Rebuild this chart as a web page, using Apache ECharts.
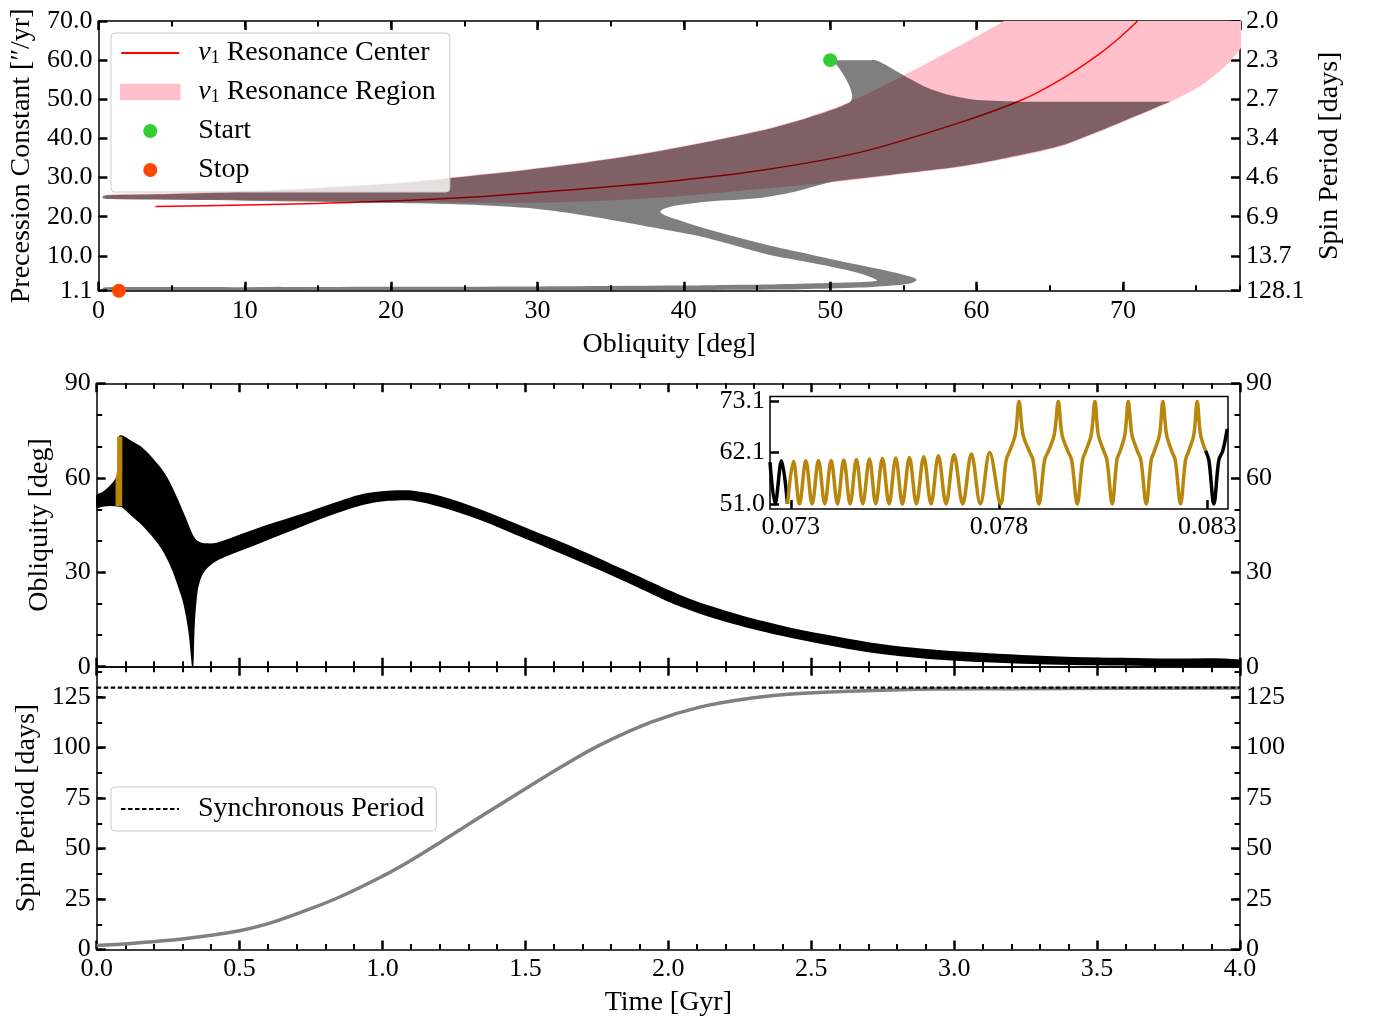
<!DOCTYPE html>
<html>
<head>
<meta charset="utf-8">
<script src="https://cdn.jsdelivr.net/npm/echarts@6/dist/echarts.min.js"></script>
<style>html,body{margin:0;padding:0;background:#fff}#c{width:1375px;height:1023px}</style>
</head>
<body>
<div id="c"></div>
<script>
// ---------------- DATA ----------------
// Panel 1: obliquity [deg] vs precession constant ["/yr]
const p1YTicks = [1.1, 10, 20, 30, 40, 50, 60, 70];
const p1SpinLabels = ['128.1', '13.7', '6.9', '4.6', '3.4', '2.7', '2.3', '2.0'];
const p1PinkUpper = [[0.5,25.6],[5,26.0],[10,26.6],[15,27.5],[20,28.6],[24.5,30.2],[31.6,33.2],[38.4,37.0],[45.2,42.1],[48.5,45.5],[51.3,49.3],[54.3,54.7],[58,62.0],[62,70.3],[65,78],[70,86],[81,86]];
const p1PinkLower = [[0.5,24.6],[10,24.3],[20,23.9],[25,23.6],[31.6,23.7],[38.4,24.9],[45.2,27.1],[52.1,29.6],[55,30.9],[58.9,32.7],[62,34.8],[65.7,37.9],[68.4,41.7],[71,45.7],[73.2,49.3],[75.3,53.4],[77,58.5],[78,62.8],[79,67.5],[80,73],[81,79]];
const p1Center = [[3.9,22.6],[10,23.0],[15,23.4],[20,24.0],[26.8,25.3],[31.6,26.7],[38.4,28.8],[45.2,31.8],[52.1,36.5],[58.9,44.1],[63.2,50.0],[66,55.6],[68.4,61.6],[70,66.5],[71.0,70.0]];
const p1Trajectory = [[50,60],[50.3,60],[52.8,60],[53.1,60],[53.3,59.7],[54.3,57.7],[55.5,55.1],[56.6,53.0],[58.0,51.2],[59.5,50.1],[61.2,49.6],[63.0,49.4],[72.9,49.4],[73.2,49.4],[72.9,48.9],
  [71,45.9],[68.4,41.9],[65.7,38.1],[62,35.0],[58.9,32.9],[55,31.1],[52.1,29.8],[50,28.8],
  [47.5,26.3],[45.2,24.8],[41.7,23.9],[39.6,22.9],[38.7,22.1],[38.4,21.3],
  [38.7,20.4],[39.6,19.2],[41,17.5],[43.4,15.0],[46,12.5],[48.7,10.3],[51.3,8.2],[53.5,6.5],[55,5.2],[55.8,4.3],[55.9,3.8],
  [55.5,3.0],[54.5,2.5],[52,1.9],[48,1.5],[40,1.3],[30,1.2],[20,1.15],[10,1.1],[0.5,1.1],[0.3,1.3],
  [0.3,1.8],[0.5,2.0],[10,2.0],[20,2.1],[30,2.2],[40,2.4],[44,2.6],[48,2.9],[51,3.2],[53.2,3.65],
  [52.6,4.8],[51,6.5],[48.5,8.4],[45.8,10.3],[43.6,12.5],[41.1,15],[37.5,17.5],[33.8,20],[30,22.0],[25,23.1],[20,23.5],[10,24.1],[0.6,24.5],[0.3,24.7],
  [0.3,25.3],[0.6,25.5],[5,25.8],[10,26.4],[15,27.3],[20,28.4],[24.5,30.0],[31.6,33.0],[38.4,36.8],[45.2,41.9],[48.5,45.3],[51.3,49.1],
  [51.5,50.9],[51.2,54.3],[50.5,58.5],[50.1,59.7]];
const p1Start = [[50, 60]];
const p1Stop = [[1.4, 1.1]];

// Panel 2: obliquity envelope vs time [Gyr]
const oblUpperEdge = [[0,54.5],[0.02,55.5],[0.04,57.0],[0.06,59.0],[0.07,60.3],[0.077,61.5],[0.0785,73.3],[0.09,73.4],[0.12,71.8],[0.163,69.3],[0.2215,63.5],[0.25,59.6],[0.28,54.0],[0.30,49.8],[0.315,46.6],[0.33,43.2],[0.344,40.8],[0.36,39.6],[0.38,39.2],[0.42,39.4],[0.513,42.4],[0.63,46.0],[0.746,49.4],[0.85,52.6],[0.92,54.6],[0.99,55.6],[1.05,56.0],[1.108,55.9],[1.2,54.3],[1.341,50.0],[1.5,44.2],[1.691,37.1],[1.85,30.6],[2.041,22.8],[2.2,17.8],[2.391,13.2],[2.55,10.2],[2.7,7.8],[2.85,6.1],[3.02,4.8],[3.37,3.2],[3.72,2.6],[4.0,2.3]];
const oblLowerEdge = [[0,50.5],[0.02,50.8],[0.05,51.0],[0.0785,50.8],[0.09,50.5],[0.12,48.0],[0.163,44.5],[0.2215,38.1],[0.25,33.5],[0.268,29.7],[0.29,24.0],[0.303,20.1],[0.32,11.7],[0.331,2.0],[0.334,0],[0.338,0],[0.341,8.0],[0.344,14.8],[0.35,21.5],[0.356,25.4],[0.373,29.7],[0.408,32.9],[0.45,34.9],[0.571,39.2],[0.688,43.4],[0.805,47.6],[0.921,51.1],[0.99,52.4],[1.05,52.8],[1.108,52.7],[1.2,50.8],[1.341,46.6],[1.5,40.6],[1.691,33.3],[1.85,27.0],[2.041,19.1],[2.2,14.3],[2.391,9.9],[2.55,7.0],[2.7,4.6],[2.85,3.0],[3.02,1.8],[3.37,0.6],[3.72,0.2],[4.0,0.2]];

// Inset: obliquity oscillations 0.0725 - 0.0835 Gyr
const insetBlackA = [[0.0725,60.0],[0.072624,51.0],[0.072776,60.3],[0.07292,51.0]];
const insetGold = [[0.07292,51.0],[0.073064,60.2],[0.073208,51.0],[0.07336,60.3],[0.073512,51.0],[0.073664,60.4],[0.073816,51.0],[0.073968,60.4],[0.07412,51.0],[0.074272,60.5],[0.074424,51.0],[0.074576,60.6],[0.074728,51.0],[0.074888,60.7],[0.07504,51.0],[0.0752,60.8],[0.07536,51.0],[0.07552,60.9],[0.07568,51.0],[0.075848,61.0],[0.076016,51.0],[0.076192,61.2],[0.076368,51.0],[0.076544,61.4],[0.076728,51.0],[0.07692,61.6],[0.077128,51.0],[0.077336,61.8],[0.077552,51.0],[0.077776,62.1],[0.07804,51.0],
  [0.078172,60.5],[0.07826,62.5],[0.078392,66.0],[0.07848,73.1],[0.078576,66.0],[0.07872,62.5],[0.078816,60.5],[0.07896,51.0],
  [0.079096,60.5],[0.079192,62.5],[0.079328,66.0],[0.079424,73.1],[0.079512,66.0],[0.079648,62.5],[0.079744,60.5],[0.07988,51.0],
  [0.080008,60.5],[0.080088,62.5],[0.080216,66.0],[0.080304,73.1],[0.080384,66.0],[0.080512,62.5],[0.080592,60.5],[0.08072,51.0],
  [0.080832,60.5],[0.080912,62.5],[0.081024,66.0],[0.081104,73.1],[0.081192,66.0],[0.08132,62.5],[0.081408,60.5],[0.081536,51.0],
  [0.081656,60.5],[0.081736,62.5],[0.081856,66.0],[0.081936,73.1],[0.082024,66.0],[0.082144,62.5],[0.082232,60.5],[0.08236,51.0],
  [0.08248,60.5],[0.08256,62.5],[0.08268,66.0],[0.08276,73.1],[0.08284,66.0],[0.08296,62.5]];
const insetBlackB = [[0.08296,62.5],[0.08304,60.5],[0.08316,51.0],[0.08328,60.5],[0.083376,62.5],[0.08348,67.2]];
const insetXTicks = [0.073, 0.078, 0.083];
const insetYTicks = [51.0, 62.1, 73.1];

// Panel 3: spin period [days] vs time [Gyr]
const spinTime = [0, 0.12, 0.245, 0.375, 0.5, 0.6, 0.712, 0.85, 1.0, 1.1, 1.2, 1.3, 1.41, 1.5, 1.62, 1.76, 1.94, 2.11, 2.3, 2.46, 2.81, 3.2, 3.6, 4.0];
const spinPeriod = [2.0, 3.0, 4.4, 6.6, 9.3, 12.8, 18.3, 26.0, 36.3, 44.2, 52.9, 61.9, 71.7, 79.6, 90.0, 101.2, 112.6, 120.0, 124.6, 126.7, 128.6, 129.1, 129.3, 129.4];
const syncPeriod = 129.6;

// ---------------- STYLE / BUILD ----------------
const FONT = 'Liberation Serif';
const FS = 26;
const FN = 28;
const axLine = {show: true, onZero: false, lineStyle: {color: '#000', width: 1.5}};
const majTick = {show: true, inside: true, length: 9, lineStyle: {color: '#000', width: 2.5}};
const minTick = {show: true, inside: true, length: 5.5, lineStyle: {color: '#000', width: 2}};
const minorT = {show: true, length: 5.5, lineStyle: {color: '#000', width: 2}};
const lbl = (extra) => Object.assign({show: true, color: '#000', fontFamily: FONT, fontSize: FS, margin: 7}, extra || {});
const nameStyle = {color: '#000', fontFamily: FONT, fontSize: FN};

function ax(grid, pos, min, max, interval, extra) {
  return Object.assign({type: 'value', gridIndex: grid, position: pos, min: min, max: max, interval: interval,
    axisLine: axLine, axisTick: majTick, axisLabel: {show: false}, splitLine: {show: false}}, extra || {});
}
function minorAx(grid, pos, min, max, interval) {
  return {type: 'value', gridIndex: grid, position: pos, min: min, max: max, interval: interval,
    axisLine: {show: false, onZero: false}, axisTick: minTick, axisLabel: {show: false}, splitLine: {show: false}};
}
function polygonSeries(name, pts, xi, yi, fill, z, smooth) {
  return {name: name, type: 'custom', xAxisIndex: xi, yAxisIndex: yi, z: z, clip: true, silent: true,
    data: [pts[0]], encode: {x: 0, y: 1},
    renderItem: function (params, api) {
      return {type: 'polygon', shape: {points: pts.map(function (p) { return api.coord(p); }), smooth: smooth},
        style: {fill: fill}};
    }};
}
const findIdx = (arr, v) => arr.findIndex(t => Math.abs(t - v) < 1e-9);

const G1 = {left: 96.7, top: 21, width: 1143.3, height: 269.7};
const G2 = {left: 96.7, top: 383.3, width: 1143.3, height: 283.4};
const G3 = {left: 96.7, top: 666.7, width: 1143.3, height: 282.8};
const G4 = {left: 770, top: 396.5, width: 458, height: 112.5, show: true, backgroundColor: '#fff', borderColor: '#000', borderWidth: 1.5};

const xAxes = [
  ax(0, 'bottom', 0, 78, 10, {axisLabel: lbl({showMaxLabel: false}), name: 'Obliquity [deg]', nameLocation: 'middle', nameGap: 40, nameTextStyle: nameStyle}),
  minorAx(0, 'bottom', 0, 78, 5),
  ax(0, 'top', 0, 78, 10),
  minorAx(0, 'top', 0, 78, 5),
  ax(1, 'bottom', 0, 4, 0.5, {minorTick: Object.assign({splitNumber: 5}, minorT)}),
  ax(1, 'top', 0, 4, 0.5, {minorTick: Object.assign({splitNumber: 5}, minorT)}),
  ax(2, 'bottom', 0, 4, 0.5, {minorTick: Object.assign({splitNumber: 5}, minorT),
    axisLabel: lbl({formatter: v => v.toFixed(1)}), name: 'Time [Gyr]', nameLocation: 'middle', nameGap: 39, nameTextStyle: nameStyle}),
  ax(2, 'top', 0, 4, 0.5, {minorTick: Object.assign({splitNumber: 5}, minorT)}),
  ax(3, 'bottom', 0.0725, 0.0835, null, {axisLine: {show: false, onZero: false},
    axisTick: Object.assign({}, majTick, {customValues: insetXTicks}),
    axisLabel: lbl({customValues: insetXTicks, formatter: v => v.toFixed(3), margin: 5})})
];
const yAxes = [
  ax(0, 'left', 1.1, 70, null, {axisTick: Object.assign({}, majTick, {customValues: p1YTicks}),
    axisLabel: lbl({customValues: p1YTicks, formatter: v => v.toFixed(1), margin: 6}),
    name: 'Precession Constant [\u2033/yr]', nameLocation: 'middle', nameGap: 62, nameTextStyle: nameStyle}),
  ax(0, 'right', 1.1, 70, null, {axisTick: Object.assign({}, majTick, {customValues: p1YTicks}),
    axisLabel: lbl({customValues: p1YTicks, formatter: v => p1SpinLabels[findIdx(p1YTicks, v)], margin: 6}),
    name: 'Spin Period [days]', nameLocation: 'middle', nameGap: 74, nameTextStyle: nameStyle}),
  ax(1, 'left', 0, 90, 30, {minorTick: Object.assign({splitNumber: 3}, minorT), axisLabel: lbl({margin: 6}),
    name: 'Obliquity [deg]', nameLocation: 'middle', nameGap: 41, nameTextStyle: nameStyle}),
  ax(1, 'right', 0, 90, 30, {minorTick: Object.assign({splitNumber: 3}, minorT), axisLabel: lbl({margin: 6})}),
  ax(2, 'left', 0, 140, 25, {axisLabel: lbl({showMaxLabel: false, margin: 6}),
    name: 'Spin Period [days]', nameLocation: 'middle', nameGap: 55, nameTextStyle: nameStyle}),
  minorAx(2, 'left', 0, 140, 12.5),
  ax(2, 'right', 0, 140, 25, {axisLabel: lbl({showMaxLabel: false, margin: 6})}),
  minorAx(2, 'right', 0, 140, 12.5),
  ax(3, 'left', 49.9, 74.2, null, {axisLine: {show: false, onZero: false},
    axisTick: Object.assign({}, majTick, {customValues: insetYTicks}),
    axisLabel: lbl({customValues: insetYTicks, formatter: v => v.toFixed(1), margin: 5})})
];

const spinData = spinTime.map((t, i) => [t, spinPeriod[i]]);
const syncData = [[0, syncPeriod], [4, syncPeriod]];

const series = [
  polygonSeries('ν1 Resonance Region', p1PinkUpper.concat(p1PinkLower.slice().reverse()), 0, 0, '#ffc0cb', 1, 0.3),
  {name: 'ν1 Resonance Center', type: 'line', xAxisIndex: 0, yAxisIndex: 0, data: p1Center, smooth: 0.3,
    symbol: 'none', showSymbol: false, lineStyle: {color: '#ff0000', width: 1.5}, itemStyle: {color: '#ff0000'}, z: 2, silent: true},
  polygonSeries('trajectory', p1Trajectory, 0, 0, 'rgba(0,0,0,0.5)', 3, 0.3),
  {name: 'Start', type: 'scatter', xAxisIndex: 0, yAxisIndex: 0, data: p1Start, symbolSize: 14, clip: false,
    itemStyle: {color: '#32cd32', opacity: 1}, z: 4, silent: true},
  {name: 'Stop', type: 'scatter', xAxisIndex: 0, yAxisIndex: 0, data: p1Stop, symbolSize: 14, clip: false,
    itemStyle: {color: '#ff4500', opacity: 1}, z: 4, silent: true},
  polygonSeries('obliquity', oblUpperEdge.concat(oblLowerEdge.slice().reverse()), 4, 2, '#000', 2, 0.35),
  {name: 'gold-main', type: 'line', xAxisIndex: 4, yAxisIndex: 2, data: insetGold, symbol: 'none', showSymbol: false,
    lineStyle: {color: '#b8860b', width: 4}, z: 3, silent: true},
  {name: 'inset-a', type: 'line', xAxisIndex: 8, yAxisIndex: 8, data: insetBlackA, smooth: 0.35, symbol: 'none',
    lineStyle: {color: '#000', width: 3.5}, z: 3, silent: true},
  {name: 'inset-gold', type: 'line', xAxisIndex: 8, yAxisIndex: 8, data: insetGold, smooth: 0.35, symbol: 'none',
    lineStyle: {color: '#b8860b', width: 3.5}, z: 3, silent: true},
  {name: 'inset-b', type: 'line', xAxisIndex: 8, yAxisIndex: 8, data: insetBlackB, smooth: 0.35, symbol: 'none',
    lineStyle: {color: '#000', width: 3.5}, z: 3, silent: true},
  {name: 'spin', type: 'line', xAxisIndex: 6, yAxisIndex: 4, data: spinData, smooth: 0.4, symbol: 'none',
    lineStyle: {color: '#808080', width: 3.5}, z: 2, silent: true},
  {name: 'Synchronous Period', type: 'line', xAxisIndex: 6, yAxisIndex: 4, data: syncData, symbol: 'none',
    lineStyle: {color: '#000', width: 2.2, type: [4.5, 2.5]}, itemStyle: {color: '#000'}, z: 3, silent: true}
];

const noSym = {color: 'rgba(0,0,0,0)', borderColor: 'rgba(0,0,0,0)', borderWidth: 0};
const legendText = {fontFamily: FONT, fontSize: FN, color: '#000', lineHeight: 28, padding: [0, 0, 0, 14],
  rich: {v: {fontFamily: FONT, fontSize: FN, fontStyle: 'italic', lineHeight: 28, color: '#000'},
         s: {fontFamily: FONT, fontSize: 18, lineHeight: 12, verticalAlign: 'bottom', color: '#000'}}};

const option = {
  animation: false,
  backgroundColor: '#fff',
  grid: [G1, G2, G3, G4],
  xAxis: xAxes,
  yAxis: yAxes,
  legend: [
    {left: 111, top: 33, orient: 'vertical', selectedMode: false, itemWidth: 58, itemHeight: 14, itemGap: 11,
     padding: [6, 14, 8, 9], backgroundColor: 'rgba(255,255,255,0.8)', borderColor: '#cccccc', borderWidth: 1, borderRadius: 4,
     data: [
       {name: 'ν1 Resonance Center', itemStyle: noSym},
       {name: 'ν1 Resonance Region', icon: 'rect', itemStyle: {color: '#ffc0cb', borderColor: '#ffc0cb', borderWidth: 2.5}},
       {name: 'Start', icon: 'circle'},
       {name: 'Stop', icon: 'circle'}
     ],
     formatter: function (name) { return name.indexOf('ν1') === 0 ? '{v|ν}{s|1}' + name.slice(2) : name; },
     textStyle: legendText},
    {left: 111, top: 787, orient: 'vertical', selectedMode: false, itemWidth: 58, itemHeight: 14,
     padding: [8, 12, 8, 9], backgroundColor: 'rgba(255,255,255,0.8)', borderColor: '#cccccc', borderWidth: 1, borderRadius: 4,
     data: [{name: 'Synchronous Period', itemStyle: noSym}],
     textStyle: legendText}
  ],
  series: series
};

const chart = echarts.init(document.getElementById('c'), null, {renderer: 'canvas', devicePixelRatio: 1});
chart.setOption(option);
</script>
</body>
</html>
